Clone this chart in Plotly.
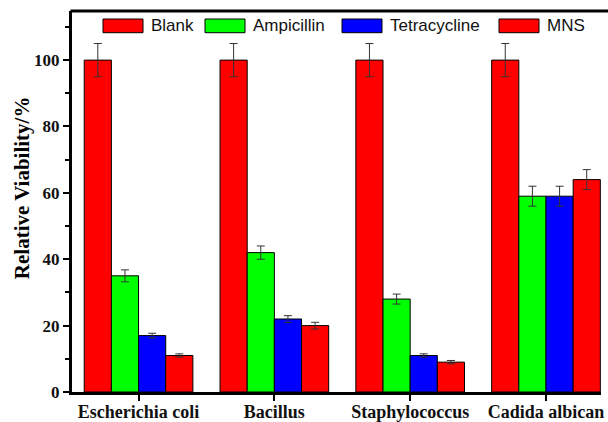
import plotly.graph_objects as go

categories = ["Escherichia coli", "Bacillus", "Staphylococcus", "Cadida albican"]
series_names = ["Blank", "Ampicillin", "Tetracycline", "MNS"]
blank = [100, 100, 100, 100]
ampicillin = [35, 42, 28, 59]
tetracycline = [17, 22, 11, 59]
mns = [11, 20, 9, 64]
blank_err = [5, 5, 5, 5]
ampicillin_err = [1.8, 2, 1.5, 3]
tetracycline_err = [0.7, 1, 0.5, 3]
mns_err = [0.5, 1, 0.5, 3]

colors = ["#ff0000", "#00ff00", "#0000ff", "#ff0000"]
values = [blank, ampicillin, tetracycline, mns]
errors = [blank_err, ampicillin_err, tetracycline_err, mns_err]

fig = go.Figure()
for name, vals, errs, col in zip(series_names, values, errors, colors):
    fig.add_trace(go.Bar(
        x=categories, y=vals, name=name,
        marker=dict(color=col, line=dict(color="#000000", width=1)),
        error_y=dict(type="data", array=errs, visible=True,
                     color="#333333", thickness=1, width=4),
        showlegend=False,
    ))

# plot area spans 72..601 px horizontally
plot_w = 608 - 72 - 7

# legend drawn as wide swatches along the top of the plot
legend_px = [103, 205, 342, 499]
for name, col, px in zip(series_names, colors, legend_px):
    lx = (px - 72) / plot_w
    fig.add_shape(type="rect", xref="paper", yref="paper",
                  x0=lx, x1=lx + 40 / plot_w, y0=0.943, y1=0.979,
                  fillcolor=col, line=dict(color="#000000", width=1))
    fig.add_annotation(text=name, xref="paper", yref="paper",
                       x=lx + 46 / plot_w, y=0.961, xanchor="left", yanchor="middle",
                       showarrow=False,
                       font=dict(family="Liberation Sans, Arial", size=17, color="#111111"))

# top frame line running to the page edge (no right-hand frame)
fig.add_shape(type="line", xref="paper", yref="paper",
              x0=-1.5 / plot_w, x1=1 + 7 / plot_w, y0=1, y1=1,
              line=dict(color="#000000", width=3))

serif = "Liberation Serif, Times New Roman"

# rotated y-axis title
fig.add_annotation(text="<b>Relative Viability/%</b>", xref="paper", yref="paper",
                   x=(22 - 72) / plot_w, y=0.535, xanchor="center", yanchor="middle",
                   textangle=-90, showarrow=False,
                   font=dict(family=serif, size=21, color="#000000"))

fig.update_layout(
    width=608, height=422,
    margin=dict(l=72, r=7, t=11, b=30),
    paper_bgcolor="white", plot_bgcolor="white",
    barmode="group", bargap=0.2, bargroupgap=0,
    xaxis=dict(
        range=[-0.49, 3.405], showline=True, linecolor="#000000", linewidth=3,
        ticks="outside", ticklen=6, tickwidth=2, tickcolor="#000000",
        tickfont=dict(family=serif, size=18, color="#111111"),
        ticklabelstandoff=-5,
        showgrid=False, zeroline=False, automargin=False,
    ),
    yaxis=dict(
        range=[0, 114.8], showline=True, linecolor="#000000", linewidth=3,
        ticks="outside", ticklen=6, tickwidth=2, tickcolor="#000000",
        dtick=20, tick0=0, tickfont=dict(family=serif, size=17, color="#111111"),
        showgrid=False, zeroline=False, automargin=False,
        minor=dict(dtick=10, ticks="outside", ticklen=4, tickwidth=2,
                   tickcolor="#000000", showgrid=False),
    ),
)
fig.update_xaxes(tickprefix="<b>", ticksuffix="</b>")
fig.update_yaxes(tickprefix="<b>", ticksuffix="</b>")

fig.write_html("out.html")
